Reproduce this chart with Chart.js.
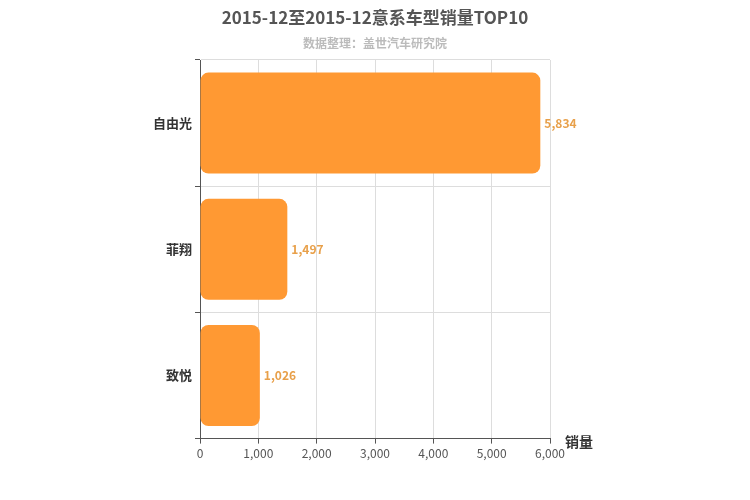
<!DOCTYPE html>
<html><head><meta charset="utf-8">
<script src="https://cdn.jsdelivr.net/npm/chart.js@4"></script>
<style>body{margin:0;background:#fff}#w{width:750px;height:500px}</style>
</head><body><div id="w"><canvas id="c"></canvas></div>
<script>
const categories = ['自由光','菲翔','致悦'];
const sales = [5834, 1497, 1026];
const titleText = '2015-12至2015-12意系车型销量TOP10';
const subtitleText = '数据整理：盖世汽车研究院';
const F = '"Noto Sans CJK SC","Noto Sans",sans-serif';
const labelPlugin = {
  id:'lbl',
  afterDatasetsDraw(chart){
    const ctx = chart.ctx; const meta = chart.getDatasetMeta(0);
    ctx.save(); ctx.font = 'bold 12px '+F; ctx.fillStyle = '#E8A04A'; ctx.textBaseline='middle';
    meta.data.forEach((b,i)=>{ ctx.fillText(sales[i].toLocaleString('en-US'), b.x+4, b.y); });
    const xs = chart.scales.x;
    ctx.font = 'bold 14px '+F; ctx.fillStyle='#333'; ctx.textAlign='left';
    ctx.fillText('销量', xs.right+15, xs.top+3);
    ctx.textAlign='center';
    ctx.font='bold 17px '+F; ctx.fillStyle='#555'; ctx.fillText(titleText, 375, 18);
    ctx.font='bold 12px '+F; ctx.fillStyle='#bbb'; ctx.fillText(subtitleText, 375, 43);
    ctx.restore();
  }
};
new Chart(document.getElementById('c'), {
  type:'bar',
  data:{labels:categories, datasets:[{data:sales, backgroundColor:'#FF9933', borderRadius:8, borderSkipped:false, barPercentage:0.8, categoryPercentage:1}]},
  options:{
    indexAxis:'y', responsive:true, maintainAspectRatio:false, animation:false,
    layout:{padding:{left:150,right:200,top:60,bottom:36}},
    plugins:{legend:{display:false}, tooltip:{enabled:false}},
    scales:{
      x:{min:0,max:6000,ticks:{stepSize:1000,color:'#555',font:{family:F,size:12},callback:v=>v.toLocaleString('en-US')},
         grid:{color:'#ddd',tickColor:'#555',tickLength:5}, border:{color:'#555'}},
      y:{ticks:{color:'#333',font:{family:F,size:13,weight:'bold'}}, grid:{offset:true,color:'#ddd',tickColor:'#555',tickLength:5}, border:{color:'#555'}}
    }
  },
  plugins:[labelPlugin]
});
</script></body></html>
